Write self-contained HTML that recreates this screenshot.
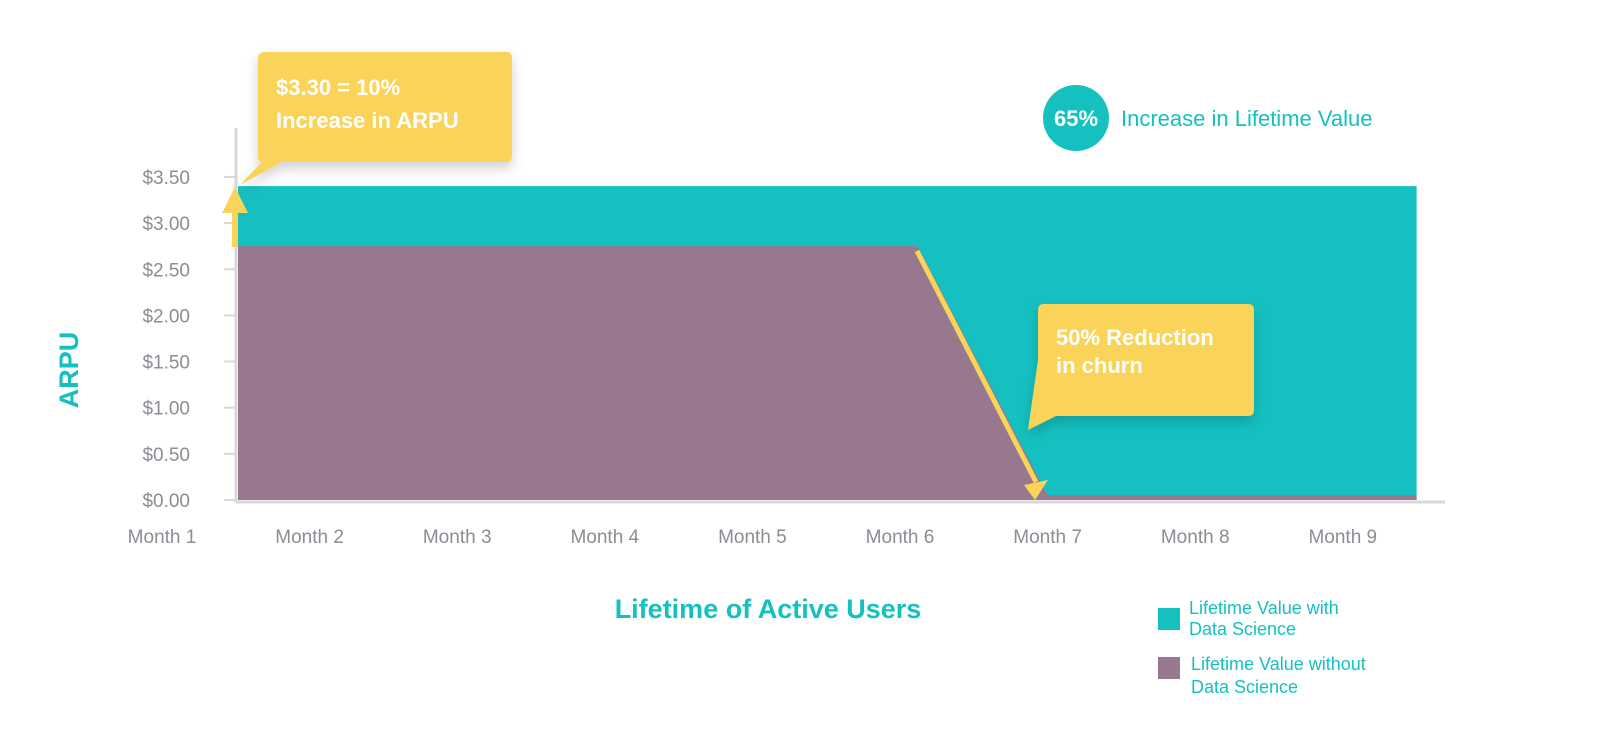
<!DOCTYPE html>
<html><head><meta charset="utf-8"><style>
body{margin:0;background:#fff;width:1600px;height:743px;overflow:hidden;font-family:"Liberation Sans",sans-serif}
</style></head><body>
<svg id="chart" width="1600" height="743" viewBox="0 0 1600 743" xmlns="http://www.w3.org/2000/svg">
<defs><filter id="sh" x="-20%" y="-20%" width="140%" height="160%"><feDropShadow dx="0" dy="6" stdDeviation="6" flood-color="#000" flood-opacity="0.18"/></filter></defs>
<g id="areas"></g>
<g id="axes"></g>
<g id="annot"></g>
</svg>
<script>
const monthLabels=["Month 1","Month 2","Month 3","Month 4","Month 5","Month 6","Month 7","Month 8","Month 9"];
const yTicks=[0,0.5,1,1.5,2,2.5,3,3.5];
const yTickLabels=["$0.00","$0.50","$1.00","$1.50","$2.00","$2.50","$3.00","$3.50"];
const withMonths=[1.515,9.5];
const withValues=[3.4,3.4];
const withoutMonths=[1.515,6.12,7.0,9.5];
const withoutValues=[2.75,2.75,0.05,0.05];
const NS="http://www.w3.org/2000/svg";
const x=m=>162+(m-1)*147.6;
const y=v=>500-v*92.3;
function mk(tag,attrs,parent,text){const e=document.createElementNS(NS,tag);for(const k in attrs)e.setAttribute(k,attrs[k]);if(text!==undefined)e.textContent=text;parent.appendChild(e);return e;}
const areas=document.getElementById('areas'),axes=document.getElementById('axes'),an=document.getElementById('annot');
function areaPath(ms,vs){let d=`M${x(ms[0])},${y(0)}`;ms.forEach((m,i)=>d+=`L${x(m)},${y(vs[i])}`);d+=`L${x(ms[ms.length-1])},${y(0)}Z`;return d;}
const a1=mk('path',{d:areaPath(withMonths,withValues),fill:'#14c1c0'},areas);


const a2=mk('path',{d:areaPath(withoutMonths,withoutValues),fill:'#98788f'},areas);


mk('line',{x1:236,y1:128,x2:236,y2:502,stroke:'#d8d8d8','stroke-width':3},axes);
mk('line',{x1:236,y1:502,x2:1445,y2:502,stroke:'#d8d8d8','stroke-width':3},axes);
yTicks.forEach((v,i)=>{
 const t=mk('line',{x1:224,y1:y(v),x2:236,y2:y(v),stroke:'#d8d8d8','stroke-width':2},axes);
 
 const l=mk('text',{x:190,y:y(v)+7,'text-anchor':'end','font-size':19,fill:'#8a8d93'},axes,yTickLabels[i]);
 
 
});
monthLabels.forEach((m,i)=>{
 const l=mk('text',{x:x(i+1),y:543,'text-anchor':'middle','font-size':19,fill:'#8a8d93'},axes,m);
 
 
});
const yt=mk('text',{x:78,y:370,transform:'rotate(-90 78 370)','text-anchor':'middle','font-size':27,'font-weight':'bold',fill:'#14c1c0'},axes,'ARPU');

const xt=mk('text',{x:768,y:618,'text-anchor':'middle','font-size':27,'font-weight':'bold',fill:'#14c1c0'},axes,'Lifetime of Active Users');

// arrows
mk('line',{x1:235,y1:247,x2:235,y2:210,stroke:'#fad45a','stroke-width':6},an);
mk('polygon',{points:'222,213 235,187 248,213',fill:'#fad45a'},an);
mk('line',{x1:917,y1:251,x2:1036,y2:482,stroke:'#fad45a','stroke-width':5},an);
mk('polygon',{points:'1035,500 1024,485 1048,480',fill:'#fad45a'},an);
// callouts
const c1=mk('g',{filter:'url(#sh)'},an);
mk('path',{d:'M266,52 H506 Q512,52 512,58 V156 Q512,162 506,162 H282 L240,185 L262,162 Q258,162 258,156 V58 Q258,52 266,52Z',fill:'#fad45a'},c1);
mk('text',{x:276,y:95,'font-size':22,'font-weight':'bold',fill:'#fff'},c1,'$3.30 = 10%');
mk('text',{x:276,y:128,'font-size':22,'font-weight':'bold',fill:'#fff'},c1,'Increase in ARPU');
const c2=mk('g',{filter:'url(#sh)'},an);
mk('path',{d:'M1044,304 H1248 Q1254,304 1254,310 V410 Q1254,416 1248,416 H1056 L1028,430 L1038,360 V310 Q1038,304 1044,304Z',fill:'#fad45a'},c2);
mk('text',{x:1056,y:345,'font-size':22,'font-weight':'bold',fill:'#fff'},c2,'50% Reduction');
mk('text',{x:1056,y:373,'font-size':22,'font-weight':'bold',fill:'#fff'},c2,'in churn');
const b=mk('g',{},an);
mk('circle',{cx:1076,cy:118,r:33,fill:'#14c1c0'},b);
mk('text',{x:1076,y:126,'text-anchor':'middle','font-size':22,'font-weight':'bold',fill:'#fff'},b,'65%');
mk('text',{x:1121,y:126,'font-size':22,fill:'#14c1c0'},b,'Increase in Lifetime Value');
const lg1=mk('g',{},an);
mk('rect',{x:1158,y:608,width:22,height:22,fill:'#14c1c0'},lg1);
mk('text',{x:1189,y:614,'font-size':18,fill:'#14c1c0'},lg1,'Lifetime Value with');
mk('text',{x:1189,y:635,'font-size':18,fill:'#14c1c0'},lg1,'Data Science');
const lg2=mk('g',{},an);
mk('rect',{x:1158,y:657,width:22,height:22,fill:'#98788f'},lg2);
mk('text',{x:1191,y:670,'font-size':18,fill:'#14c1c0'},lg2,'Lifetime Value without');
mk('text',{x:1191,y:693,'font-size':18,fill:'#14c1c0'},lg2,'Data Science');
</script>
</body></html>
